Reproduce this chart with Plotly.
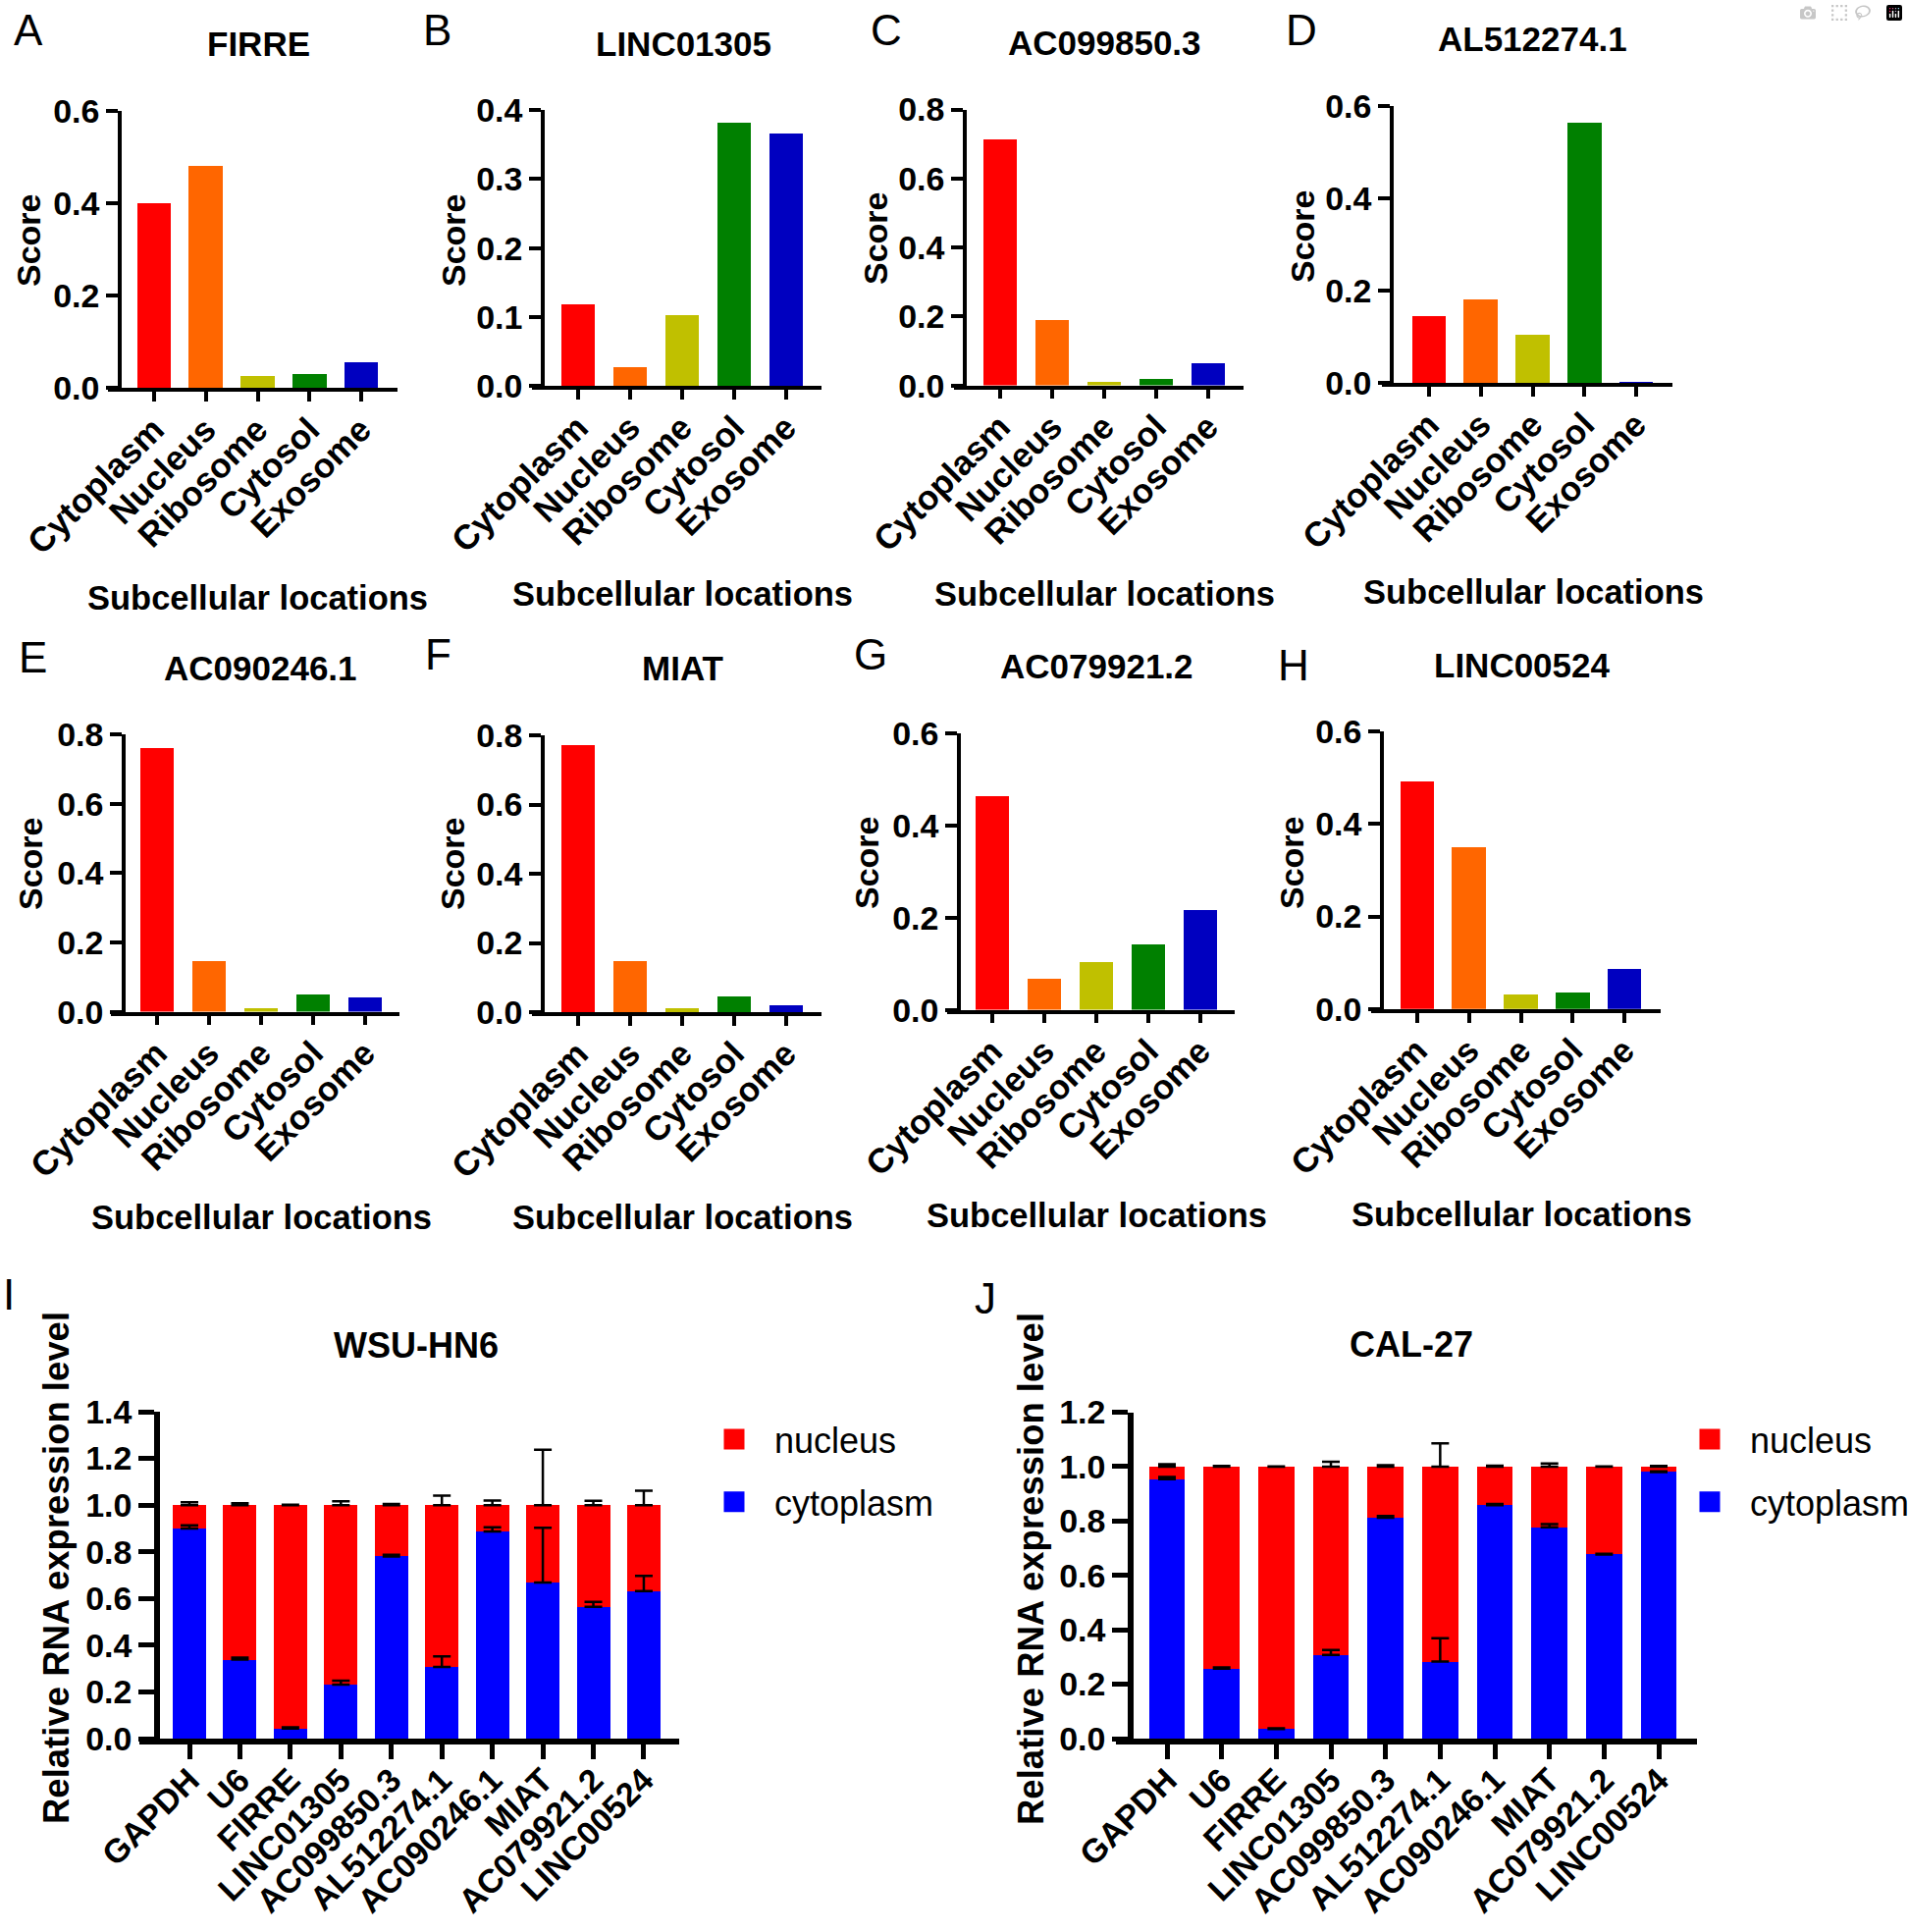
import plotly.graph_objects as go

# ---------------- DATA ----------------
locations = ["Cytoplasm", "Nucleus", "Ribosome", "Cytosol", "Exosome"]
loc_colors = ["#FF0000", "#FF6600", "#C0C000", "#008000", "#0000C0"]

lnc_names = ["FIRRE", "LINC01305", "AC099850.3", "AL512274.1",
             "AC090246.1", "MIAT", "AC079921.2", "LINC00524"]
panel_letters_top = ["A", "B", "C", "D", "E", "F", "G", "H"]

score_FIRRE = [0.400, 0.481, 0.027, 0.031, 0.055]
score_LINC01305 = [0.118, 0.028, 0.103, 0.381, 0.366]
score_AC099850_3 = [0.712, 0.189, 0.010, 0.018, 0.065]
score_AL512274_1 = [0.144, 0.180, 0.105, 0.564, 0.003]
score_AC090246_1 = [0.760, 0.147, 0.010, 0.049, 0.040]
score_MIAT = [0.772, 0.148, 0.012, 0.046, 0.019]
score_AC079921_2 = [0.464, 0.067, 0.104, 0.141, 0.217]
score_LINC00524 = [0.492, 0.349, 0.032, 0.035, 0.086]

score_ymax = [0.6, 0.4, 0.8, 0.6, 0.8, 0.8, 0.6, 0.6]
score_dtick = [0.2, 0.1, 0.2, 0.2, 0.2, 0.2, 0.2, 0.2]

genes = ["GAPDH", "U6", "FIRRE", "LINC01305", "AC099850.3", "AL512274.1",
         "AC090246.1", "MIAT", "AC079921.2", "LINC00524"]

wsu_cyto = [0.900, 0.338, 0.043, 0.231, 0.780, 0.307, 0.887, 0.668, 0.564, 0.632]
wsu_nuc = [0.100, 0.662, 0.957, 0.769, 0.220, 0.693, 0.113, 0.332, 0.436, 0.368]
wsu_cyto_err = [0.013, 0.009, 0.005, 0.017, 0.007, 0.045, 0.018, 0.235, 0.021, 0.065]
wsu_nuc_err = [0.012, 0.008, 0.002, 0.016, 0.005, 0.041, 0.020, 0.237, 0.018, 0.062]

cal_cyto = [0.954, 0.257, 0.035, 0.308, 0.812, 0.283, 0.858, 0.777, 0.677, 0.980]
cal_nuc = [0.046, 0.743, 0.965, 0.692, 0.188, 0.717, 0.142, 0.223, 0.323, 0.020]
cal_cyto_err = [0.008, 0.005, 0.003, 0.018, 0.006, 0.086, 0.005, 0.012, 0.002, 0.003]
cal_nuc_err = [0.009, 0.002, 0.001, 0.018, 0.005, 0.085, 0.003, 0.011, 0.001, 0.002]

wsu_ymax, wsu_dtick = 1.4, 0.2
cal_ymax, cal_dtick = 1.2, 0.2

score_series = [score_FIRRE, score_LINC01305, score_AC099850_3, score_AL512274_1,
                score_AC090246_1, score_MIAT, score_AC079921_2, score_LINC00524]

# ---------------- LAYOUT HELPERS ----------------
W, H = 1944, 1968
FONT = "Liberation Sans, Arial, Helvetica, sans-serif"


def fx(p):
    return p / W


def fy(p):
    return 1 - p / H


top_geo = [
    dict(xl=110, xr=405, c0=157, s=52.75, ya=122, yt=112.7, yb=395.4, title=(263, 45), letter=(29, 30), score=(29, 245), sub=(262, 609)),
    dict(xl=542, xr=837, c0=589, s=53.0, ya=553, yt=111.9, yb=393.4, title=(696, 45), letter=(445, 30), score=(462, 245), sub=(695, 605)),
    dict(xl=972, xr=1267, c0=1019, s=53.0, ya=983, yt=111.5, yb=392.6, title=(1125, 43), letter=(903, 30), score=(892, 243), sub=(1125, 605)),
    dict(xl=1408, xr=1704, c0=1456, s=52.75, ya=1418, yt=107.6, yb=390.3, title=(1561, 40), letter=(1326, 30), score=(1327, 241), sub=(1562, 603)),
    dict(xl=113, xr=407, c0=160, s=53.0, ya=126, yt=748, yb=1030.6, title=(265, 681), letter=(33, 669), score=(31, 880), sub=(266, 1240)),
    dict(xl=542, xr=837, c0=589, s=53.0, ya=553, yt=749, yb=1031, title=(695, 681), letter=(446, 667), score=(461, 880), sub=(695, 1240)),
    dict(xl=965, xr=1258, c0=1011, s=53.0, ya=977, yt=747, yb=1028.6, title=(1117, 679), letter=(887, 667), score=(883, 879), sub=(1117, 1238)),
    dict(xl=1397, xr=1692, c0=1444, s=52.75, ya=1408, yt=745, yb=1027.8, title=(1551, 677), letter=(1318, 677), score=(1316, 879), sub=(1550, 1237)),
]

bottom_geo = [
    dict(xl=142, xr=692, c0=193, s=51.44, ya=160, yt=1438, yb=1771, title=(424, 1370), ytitle=(57, 1597), letter=(1, 1318), legend=(707, 1436)),
    dict(xl=1137, xr=1729, c0=1189, s=55.67, ya=1152, yt=1438.5, yb=1771, title=(1438, 1369), ytitle=(1050, 1598), letter=(1004, 1322), legend=(1701, 1436)),
]

fig = go.Figure()
layout = dict(
    width=W, height=H,
    margin=dict(l=0, r=0, t=0, b=0, pad=0, autoexpand=False),
    paper_bgcolor="white", plot_bgcolor="white",
    barmode="stack",
    font=dict(family=FONT, color="black"),
    showlegend=True,
)
annotations = []


def add_text(text, x, y, size, bold=True, angle=0, xanchor="center"):
    annotations.append(dict(
        text=text, x=fx(x), y=fy(y), xref="paper", yref="paper",
        xanchor=xanchor, yanchor="middle", showarrow=False, textangle=angle,
        font=dict(family=FONT, size=size, color="black", weight="bold" if bold else "normal"),
    ))


# ---------------- PANELS A-H ----------------
for i, (vals, g) in enumerate(zip(score_series, top_geo)):
    n = i + 1
    fig.add_trace(go.Bar(
        x=locations, y=vals, marker=dict(color=loc_colors, line=dict(width=0)),
        width=0.66, xaxis=f"x{n}", yaxis=f"y{n}", showlegend=False,
    ))
    layout[f"xaxis{n}"] = dict(
        domain=[fx(g["xl"]), fx(g["xr"])], anchor=f"y{n}",
        type="category",
        range=[(g["xl"] - g["c0"]) / g["s"], (g["xr"] - g["c0"]) / g["s"]],
        showline=True, linecolor="black", linewidth=3.5,
        ticks="outside", ticklen=10, tickwidth=3.5, tickcolor="black",
        tickangle=-45, ticklabelstandoff=-6,
        tickfont=dict(family=FONT, size=35, weight="bold", color="black"),
        showgrid=False, zeroline=False, fixedrange=True, automargin=False,
    )
    layout[f"yaxis{n}"] = dict(
        domain=[fy(g["yb"]), fy(g["yt"])], anchor="free", position=fx(g["ya"]),
        range=[0, score_ymax[i]], dtick=score_dtick[i], tick0=0, tickformat=".1f",
        showline=True, linecolor="black", linewidth=3.5,
        ticks="outside", ticklen=12, tickwidth=3.5, tickcolor="black",
        tickfont=dict(family=FONT, size=34, weight="bold", color="black"),
        showgrid=False, zeroline=False, fixedrange=True, automargin=False,
    )
    add_text(lnc_names[i], *g["title"], size=35)
    add_text(panel_letters_top[i], *g["letter"], size=44, bold=False)
    add_text("Score", *g["score"], size=34, angle=-90)
    add_text("Subcellular locations", *g["sub"], size=34.5)

# ---------------- PANELS I-J ----------------
bottom_sets = [
    ("WSU-HN6", "I", wsu_cyto, wsu_nuc, wsu_cyto_err, wsu_nuc_err, wsu_ymax, wsu_dtick, "legend"),
    ("CAL-27", "J", cal_cyto, cal_nuc, cal_cyto_err, cal_nuc_err, cal_ymax, cal_dtick, "legend2"),
]
series_colors = {"cytoplasm": "#0000FF", "nucleus": "#FF0000"}

for k, ((ttl, letter, cyto, nuc, cerr, nerr, ymax, dt, leg), g) in enumerate(zip(bottom_sets, bottom_geo)):
    n = 9 + k
    xa, ya_ = f"x{n}", f"y{n}"
    fig.add_trace(go.Bar(
        x=genes, y=cyto, name="cytoplasm", marker=dict(color=series_colors["cytoplasm"], line=dict(width=0)),
        width=0.66, xaxis=xa, yaxis=ya_, showlegend=False,
    ))
    fig.add_trace(go.Bar(
        x=genes, y=nuc, name="nucleus", marker=dict(color=series_colors["nucleus"], line=dict(width=0)),
        width=0.66, xaxis=xa, yaxis=ya_, showlegend=False,
    ))
    # error bars (upward only) at the top of each stacked segment
    fig.add_trace(go.Scatter(
        x=genes, y=cyto, mode="markers", marker=dict(size=1, opacity=0),
        error_y=dict(type="data", array=cerr, arrayminus=[0] * len(cerr), symmetric=False,
                     color="black", thickness=2.5, width=9),
        xaxis=xa, yaxis=ya_, showlegend=False, hoverinfo="skip",
    ))
    fig.add_trace(go.Scatter(
        x=genes, y=[c + v for c, v in zip(cyto, nuc)], mode="markers", marker=dict(size=1, opacity=0),
        error_y=dict(type="data", array=nerr, arrayminus=[0] * len(nerr), symmetric=False,
                     color="black", thickness=2.5, width=9),
        xaxis=xa, yaxis=ya_, showlegend=False, hoverinfo="skip",
    ))
    # legend entries (square swatches)
    for rank, nm in ((1, "nucleus"), (2, "cytoplasm")):
        fig.add_trace(go.Scatter(
            x=[None], y=[None], mode="markers", name=nm,
            marker=dict(symbol="square", size=16, color=series_colors[nm],
                        line=dict(width=5, color=series_colors[nm])),
            xaxis=xa, yaxis=ya_, legend=leg, legendgroup=f"{nm}{k}", legendrank=rank,
            showlegend=True, hoverinfo="skip",
        ))
    layout[f"xaxis{n}"] = dict(
        domain=[fx(g["xl"]), fx(g["xr"])], anchor=ya_, type="category",
        range=[(g["xl"] - g["c0"]) / g["s"], (g["xr"] - g["c0"]) / g["s"]],
        showline=True, linecolor="black", linewidth=5.5,
        ticks="outside", ticklen=15, tickwidth=5, tickcolor="black",
        tickangle=-45, ticklabelstandoff=-12,
        tickfont=dict(family=FONT, size=34, weight="bold", color="black"),
        showgrid=False, zeroline=False, fixedrange=True, automargin=False,
    )
    layout[f"yaxis{n}"] = dict(
        domain=[fy(g["yb"]), fy(g["yt"])], anchor="free", position=fx(g["ya"]),
        range=[0, ymax], dtick=dt, tick0=0, tickformat=".1f",
        showline=True, linecolor="black", linewidth=5.5,
        ticks="outside", ticklen=16, tickwidth=5, tickcolor="black",
        tickfont=dict(family=FONT, size=34, weight="bold", color="black"),
        showgrid=False, zeroline=False, fixedrange=True, automargin=False,
    )
    layout[leg] = dict(
        x=fx(g["legend"][0]), y=fy(g["legend"][1]), xanchor="left", yanchor="top",
        bgcolor="rgba(0,0,0,0)", borderwidth=0, traceorder="grouped",
        tracegroupgap=14, itemwidth=72, itemsizing="trace",
        font=dict(family=FONT, size=36, color="black"),
    )
    add_text(ttl, *g["title"], size=36)
    add_text("Relative RNA expression level", *g["ytitle"], size=36.5, angle=-90)
    if letter == "I":
        add_text(letter, *g["letter"], size=44, bold=False, xanchor="left")
    else:
        add_text(letter, *g["letter"], size=44, bold=False)

layout["annotations"] = annotations
fig.update_layout(**layout)

fig.write_html("out.html", include_plotlyjs=True,
               post_script="document.body.style.margin='0px';")
